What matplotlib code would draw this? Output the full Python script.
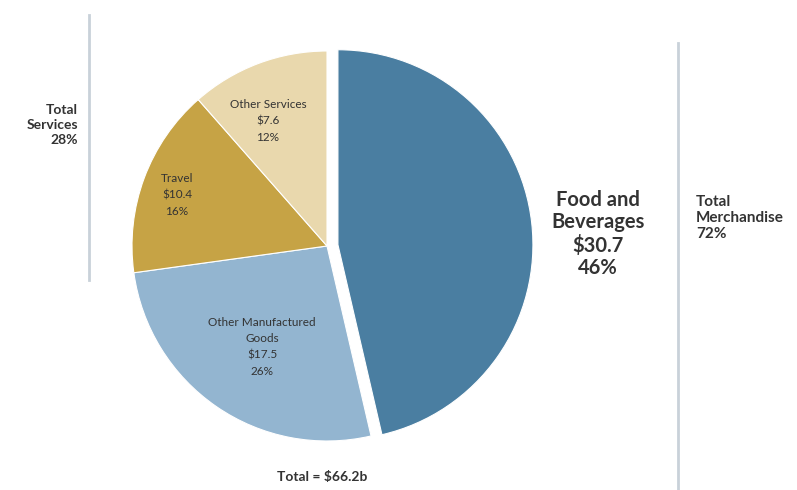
import matplotlib.pyplot as plt

# Export totals by category, in billions of dollars
categories = ["Food and\nBeverages", "Other Manufactured\nGoods", "Travel", "Other Services"]
values = [30.7, 17.5, 10.4, 7.6]
shares = ["46%", "26%", "16%", "12%"]
colors = ["#4a7ea1", "#93b5d0", "#c6a345", "#e9d8ad"]

group_labels = ["Total\nServices\n28%", "Total\nMerchandise\n72%"]

plt.rcParams["font.family"] = ["Lato", "DejaVu Sans"]
text_color = "#333333"

fig = plt.figure(figsize=(7.97, 4.90), dpi=100)
ax = fig.add_axes([0, 0, 1, 1])

# explode is in data units here (pixel-sized axes)
ax.pie(
    values,
    colors=colors,
    startangle=90,
    counterclock=False,
    explode=[11, 0, 0, 0],
    center=(327, 244),
    radius=195,
    wedgeprops=dict(edgecolor="white", linewidth=0.8),
    frame=True,
)
ax.set_xlim(0, 797)
ax.set_ylim(0, 490)
ax.set_aspect("equal")
ax.axis("off")

# slice labels
label_pos = [(598, 256), (262, 143), (177, 295), (268, 369)]
for i, (x, y) in enumerate(label_pos):
    text = f"{categories[i]}\n${values[i]}\n{shares[i]}"
    if i == 0:
        ax.text(x, y, text, ha="center", va="center", fontsize=14.5,
                fontweight="bold", color=text_color, linespacing=1.15)
    else:
        ax.text(x, y, text, ha="center", va="center", fontsize=8.5,
                color=text_color, linespacing=1.6)

# group totals and dividers
ax.plot([89, 89], [475, 210], color="#c9d1d9", linewidth=2)
ax.plot([678, 678], [447, 0], color="#c9d1d9", linewidth=2)
ax.text(78, 365, group_labels[0], ha="right", va="center", fontsize=10,
        fontweight="bold", color=text_color, linespacing=1.35)
ax.text(696, 272, group_labels[1], ha="left", va="center", fontsize=11,
        fontweight="bold", color=text_color, linespacing=1.2)

ax.text(322, 13, f"Total = ${sum(values):.1f}b", ha="center", va="center",
        fontsize=10, fontweight="bold", color=text_color)

fig.savefig("out.png", dpi=100, facecolor="white")
